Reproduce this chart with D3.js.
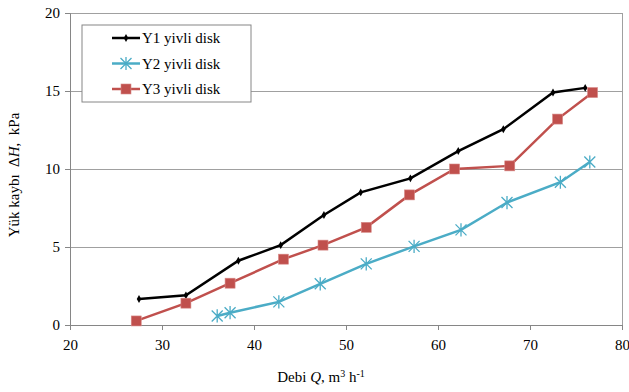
<!DOCTYPE html>
<html lang="en">
<head>
  <meta charset="UTF-8" />
  <title>Yük kaybı</title>
  <style>
    *{margin:0;padding:0}
    body{background:#fff;font-family:"Liberation Serif","Times New Roman",serif}
    svg text{font-family:"Liberation Serif","Times New Roman",serif;fill:#000;white-space:pre}
  </style>
</head>
<body>
  <div id="chart"></div>
  <script src="https://d3js.org/d3.v7.min.js"></script>
  <script>
    // series
    const names = ['Y1 yivli disk', 'Y2 yivli disk', 'Y3 yivli disk'];
    const y1Q = [27.5, 32.6, 38.3, 42.9, 47.6, 51.6, 57.0, 62.2, 67.1, 72.5, 76.0];
    const y1H = [1.67, 1.9, 4.12, 5.12, 7.05, 8.5, 9.4, 11.15, 12.55, 14.9, 15.2];
    const y2Q = [36.0, 37.4, 42.7, 47.2, 52.2, 57.4, 62.5, 67.5, 73.3, 76.5];
    const y2H = [0.58, 0.79, 1.48, 2.64, 3.92, 5.04, 6.1, 7.85, 9.15, 10.45];
    const y3Q = [27.2, 32.6, 37.4, 43.2, 47.5, 52.2, 56.9, 61.8, 67.8, 73.0, 76.8];
    const y3H = [0.26, 1.4, 2.68, 4.22, 5.12, 6.26, 8.34, 10.0, 10.2, 13.2, 14.9];
    const xTicks = [20, 30, 40, 50, 60, 70, 80];
    const yTicks = [0, 5, 10, 15, 20];

    const series = [
      { name: names[0], q: y1Q, h: y1H, color: '#000000', marker: 'diamond' },
      { name: names[1], q: y2Q, h: y2H, color: '#4bacc6', marker: 'star' },
      { name: names[2], q: y3Q, h: y3H, color: '#c0504d', marker: 'square' }
    ];

    const width = 629, height = 392;
    const m = { left: 70, right: 7, top: 13, bottom: 67 };

    const x = d3.scaleLinear().domain([20, 80]).range([m.left, width - m.right]);
    const y = d3.scaleLinear().domain([0, 20]).range([height - m.bottom, m.top]);

    const svg = d3.select('#chart').append('svg')
      .attr('width', width).attr('height', height);

    // grid
    svg.append('g').selectAll('line')
      .data(yTicks.slice(1))
      .join('line')
      .attr('x1', x(20)).attr('x2', x(80))
      .attr('y1', d => y(d)).attr('y2', d => y(d))
      .attr('stroke', '#a0a0a0').attr('stroke-width', 1)
      .attr('shape-rendering', 'crispEdges');

    // right border of plot area
    svg.append('line')
      .attr('x1', x(80)).attr('x2', x(80))
      .attr('y1', y(0)).attr('y2', y(20))
      .attr('stroke', '#a0a0a0').attr('shape-rendering', 'crispEdges');

    // axes
    const xAxis = d3.axisBottom(x).tickValues(xTicks).tickSize(5).tickPadding(6);
    const yAxis = d3.axisLeft(y).tickValues(yTicks).tickSize(5).tickPadding(5);

    const gx = svg.append('g').attr('transform', `translate(0,${y(0)})`).call(xAxis);
    const gy = svg.append('g').attr('transform', `translate(${x(20)},0)`).call(yAxis);
    [gx, gy].forEach(g => {
      g.select('.domain').attr('stroke', '#868686');
      g.selectAll('.tick line').attr('stroke', '#868686');
      g.selectAll('.tick text').style('font-size', '15px')
        .style('font-family', '"Liberation Serif",serif');
    });
    gx.selectAll('.tick text').attr('dy', '0.9em');

    // axis titles
    const xt = svg.append('text')
      .attr('x', 321).attr('y', 382)
      .attr('text-anchor', 'middle')
      .style('font-size', '15px');
    xt.append('tspan').text('Debi ');
    xt.append('tspan').style('font-style', 'italic').text('Q');
    xt.append('tspan').text(', m');
    xt.append('tspan').attr('dy', -5).style('font-size', '10px').text('3');
    xt.append('tspan').attr('dy', 5).text(' h');
    xt.append('tspan').attr('dy', -5).style('font-size', '10px').text('-1');

    const yt = svg.append('text')
      .attr('transform', 'translate(19,175) rotate(-90)')
      .attr('text-anchor', 'middle')
      .style('font-size', '15px');
    yt.append('tspan').text('Yük kaybı  Δ');
    yt.append('tspan').style('font-style', 'italic').text('H');
    yt.append('tspan').text(',  kPa');

    // markers
    function drawMarker(g, type, color) {
      if (type === 'diamond') {
        g.append('path').attr('d', d3.symbol(d3.symbolDiamond, 18)())
          .attr('fill', color);
      } else if (type === 'square') {
        g.append('rect').attr('x', -5).attr('y', -5).attr('width', 10).attr('height', 10)
          .attr('fill', color).attr('stroke', '#d88a88').attr('stroke-width', 0.6);
      } else {
        const r = 5.5;
        g.append('path')
          .attr('d', `M${-r},${-r}L${r},${r}M${-r},${r}L${r},${-r}M0,${-r * 1.2}L0,${r * 1.2}`)
          .attr('stroke', color).attr('stroke-width', 1.3).attr('fill', 'none');
      }
    }

    const line = d3.line().x(d => x(d[0])).y(d => y(d[1]));

    series.forEach(s => {
      const pts = s.q.map((q, i) => [q, s.h[i]]);
      svg.append('path')
        .datum(pts)
        .attr('d', line)
        .attr('fill', 'none')
        .attr('stroke', s.color)
        .attr('stroke-width', 2.5);
      pts.forEach(p => {
        const g = svg.append('g').attr('transform', `translate(${x(p[0])},${y(p[1])})`);
        drawMarker(g, s.marker, s.color);
      });
    });

    // legend
    const lg = svg.append('g').attr('transform', 'translate(82,25)');
    lg.append('rect').attr('width', 169).attr('height', 77)
      .attr('fill', '#fff').attr('stroke', '#868686');
    series.forEach((s, i) => {
      const yy = 13 + i * 25.5;
      lg.append('line').attr('x1', 30).attr('x2', 58).attr('y1', yy).attr('y2', yy)
        .attr('stroke', s.color).attr('stroke-width', 2.5);
      const g = lg.append('g').attr('transform', `translate(44,${yy})`);
      drawMarker(g, s.marker, s.color);
      lg.append('text').attr('x', 60).attr('y', yy).attr('dy', '0.35em')
        .style('font-size', '15px').text(s.name);
    });
  </script>
</body>
</html>
